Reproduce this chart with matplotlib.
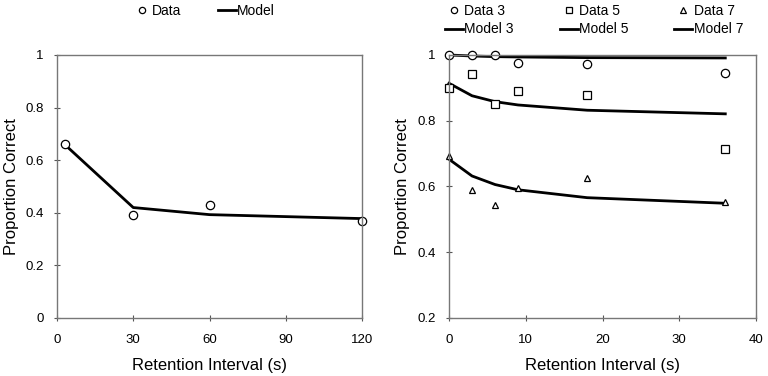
import numpy as np
import matplotlib.pyplot as plt

plt.rcParams['font.family'] = ['Liberation Sans', 'DejaVu Sans']

# left panel
left_x = [3, 30, 60, 120]
left_data = [0.66, 0.39, 0.43, 0.37]
left_model = [0.66, 0.42, 0.393, 0.378]

# right panel
right_x = [0, 3, 6, 9, 18, 36]
data3 = [1.0, 1.0, 1.0, 0.975, 0.974, 0.946]
data5 = [0.899, 0.943, 0.850, 0.889, 0.879, 0.715]
data7 = [0.693, 0.588, 0.544, 0.596, 0.626, 0.554]
model3 = [1.0, 0.997, 0.995, 0.994, 0.992, 0.991]
model5 = [0.914, 0.876, 0.858, 0.848, 0.832, 0.821]
model7 = [0.683, 0.632, 0.606, 0.590, 0.566, 0.549]

fig = plt.figure(figsize=(7.68, 3.76), dpi=100)
ax1 = fig.add_axes([57/768, 1-318/376, 305/768, 263/376])
ax2 = fig.add_axes([449/768, 1-318/376, 307/768, 263/376])

mk = dict(linestyle='none', markerfacecolor='white', markeredgecolor='black',
          markeredgewidth=0.9, clip_on=False)

ax1.plot(left_x, left_model, color='black', lw=2, label='Model', clip_on=False)
ax1.plot(left_x, left_data, marker='o', markersize=6, label='Data', **mk)
ax1.set_xlim(0, 120)
ax1.set_ylim(0, 1)
ax1.set_xticks([0, 30, 60, 90, 120])
ax1.set_yticks([0, 0.2, 0.4, 0.6, 0.8, 1])
ax1.set_yticklabels(['0', '0.2', '0.4', '0.6', '0.8', '1'])

ax2.plot(right_x, model3, color='black', lw=2, label='Model 3', clip_on=False)
ax2.plot(right_x, model5, color='black', lw=2, label='Model 5', clip_on=False)
ax2.plot(right_x, model7, color='black', lw=2, label='Model 7', clip_on=False)
ax2.plot(right_x, data3, marker='o', markersize=6, label='Data 3', **mk)
ax2.plot(right_x, data5, marker='s', markersize=6, label='Data 5', **mk)
ax2.plot(right_x, data7, marker='^', markersize=5, label='Data 7', **mk)
ax2.set_xlim(0, 40)
ax2.set_ylim(0.2, 1)
ax2.set_xticks([0, 10, 20, 30, 40])
ax2.set_yticks([0.2, 0.4, 0.6, 0.8, 1])
ax2.set_yticklabels(['0.2', '0.4', '0.6', '0.8', '1'])

for ax in (ax1, ax2):
    for s in ax.spines.values():
        s.set_color('#777777')
        s.set_linewidth(1)
    ax.tick_params(direction='inout', length=5, color='#555555', labelsize=9.5)
    ax.tick_params(axis='y', pad=7)
    ax.tick_params(axis='x', pad=9)
    ax.set_xlabel('Retention Interval (s)', fontsize=12, labelpad=9)
    ax.set_ylabel('Proportion Correct', fontsize=12, va='center')

ax1.yaxis.set_label_coords((12 - 57) / 305, 0.5)
ax2.yaxis.set_label_coords((403 - 449) / 307, 0.5)

h, l = ax1.get_legend_handles_labels()
fig.legend([h[1], h[0]], [l[1], l[0]], loc='center', bbox_to_anchor=(204/768, 1-11/376),
           ncol=2, frameon=False, fontsize=10, handlelength=1.3, columnspacing=2.6,
           handletextpad=0.1, borderpad=0, markerscale=0.75)

h, l = ax2.get_legend_handles_labels()
order = [3, 0, 4, 1, 5, 2]
fig.legend([h[i] for i in order], [l[i] for i in order], loc='center',
           bbox_to_anchor=(594/768, 1-20/376), ncol=3, frameon=False, fontsize=10,
           handlelength=1.3, columnspacing=3.3, handletextpad=0.1, labelspacing=0.35,
           borderpad=0, markerscale=0.75)

fig.savefig('out.png', dpi=100)
